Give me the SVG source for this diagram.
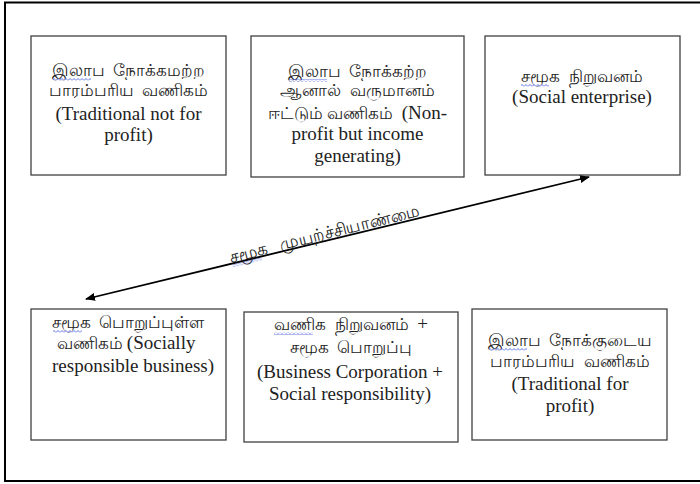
<svg xmlns="http://www.w3.org/2000/svg" width="700" height="484" viewBox="0 0 700 484">
<defs>
<style>
.frame{fill:#fff;stroke:#000;stroke-width:2}
.box{fill:#fff;stroke:#404040;stroke-width:1.3}
.t{fill:#222;text-anchor:middle;white-space:pre;font-family:"Liberation Serif",serif}
.en{font-family:"Liberation Serif",serif;font-size:19px}
.ta{font-family:"Liberation Serif",serif;font-size:17px}
.conn{stroke:#000;stroke-width:1.8;fill:none}
.wave{fill:url(#wv)}
</style>
<pattern id="wv" x="0" y="0" width="4" height="3" patternUnits="userSpaceOnUse">
<path d="M0,2.5 L2,0.5 L4,2.5" fill="none" stroke="#3a50d8" stroke-width="0.8"/>
</pattern>
<marker id="ah" viewBox="0 0 10 10" refX="9" refY="5" markerWidth="10" markerHeight="10" markerUnits="userSpaceOnUse" orient="auto-start-reverse">
<path d="M0,1 L10,5 L0,9 Z" fill="#000"/>
</marker>
</defs>
<rect class="frame" x="5" y="2.5" width="710" height="478.5"/>
<g id="n1">
<rect class="box" x="31" y="36" width="195" height="139"/>
<text class="t ta" x="128.5" y="76">இலாப  நோக்கமற்ற</text>
<rect class="wave" x="53" y="78" width="38" height="3"/>
<text class="t ta" x="128.5" y="96">பாரம்பரிய  வணிகம்</text>
<text class="t en" x="128.5" y="120">(Traditional not for</text>
<text class="t en" x="128.5" y="141">profit)</text>
</g>
<g id="n2">
<rect class="box" x="251" y="36" width="213" height="141"/>
<text class="t ta" x="357.5" y="77">இலாப  நோக்கற்ற</text>
<rect class="wave" x="289" y="79" width="38" height="3"/>
<text class="t ta" x="357.5" y="96">ஆனால்  வருமானம்</text>
<text class="t" x="357.5" y="119"><tspan class="ta">ஈட்டும் வணிகம்  </tspan><tspan class="en">(Non-</tspan></text>
<text class="t en" x="357.5" y="140">profit but income</text>
<text class="t en" x="357.5" y="162">generating)</text>
</g>
<g id="n3">
<rect class="box" x="485" y="36" width="195" height="139"/>
<text class="t ta" x="582" y="82">சமூக  நிறுவனம்</text>
<rect class="wave" x="521" y="84" width="28" height="3"/>
<text class="t en" x="582" y="103">(Social enterprise)</text>
</g>
<g id="n4">
<rect class="box" x="31" y="309" width="195" height="131"/>
<text class="t ta" x="128" y="328">சமூக  பொறுப்புள்ள</text>
<rect class="wave" x="53" y="330" width="29" height="3"/>
<text class="t" x="126" y="349"><tspan class="ta">வணிகம் </tspan><tspan class="en">(Socially</tspan></text>
<text class="t en" x="133" y="372">responsible business)</text>
</g>
<g id="n5">
<rect class="box" x="244" y="312" width="214" height="130"/>
<text class="t" x="351" y="330"><tspan class="ta">வணிக  நிறுவனம்  </tspan><tspan class="en">+</tspan></text>
<rect class="wave" x="274" y="332" width="39" height="3"/>
<text class="t ta" x="351" y="353">சமூக  பொறுப்பு</text>
<text class="t en" x="350" y="378">(Business Corporation +</text>
<text class="t en" x="350" y="400">Social responsibility)</text>
</g>
<g id="n6">
<rect class="box" x="472" y="309" width="195" height="131"/>
<text class="t ta" x="570" y="346">இலாப  நோக்குடைய</text>
<rect class="wave" x="489" y="348" width="38" height="3"/>
<text class="t ta" x="570" y="367">பாரம்பரிய  வணிகம்</text>
<text class="t en" x="570" y="390">(Traditional for</text>
<text class="t en" x="570" y="412">profit)</text>
</g>
<g id="connectors">
<line class="conn" x1="86" y1="299" x2="589" y2="177" marker-start="url(#ah)" marker-end="url(#ah)"/>
<g transform="rotate(-14 326 239)">
<text class="t ta" x="326" y="239">சமூக   முயற்ச்சியாண்மை</text>
<rect class="wave" x="229" y="241" width="30" height="3"/>
</g>
</g>
</svg>
